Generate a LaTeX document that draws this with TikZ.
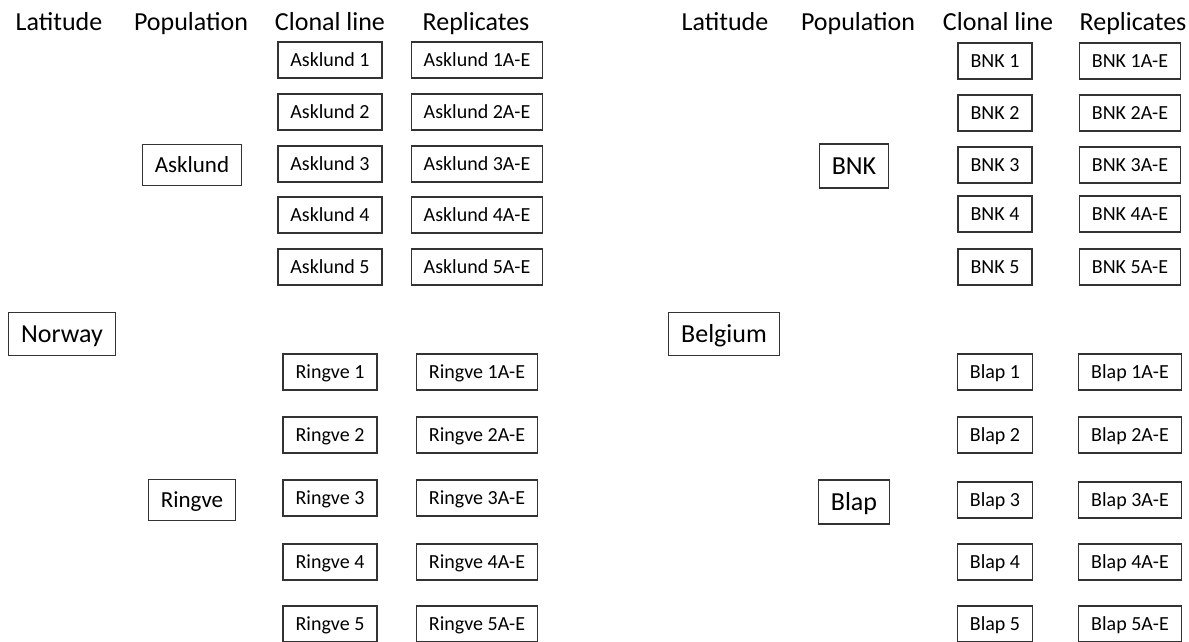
\documentclass[tikz,border=0pt]{standalone}
\usepackage{fontspec}
\setmainfont{Carlito}
\begin{document}
\begin{tikzpicture}[x=1pt,y=-1pt,
 bx/.style={draw=black!80, line width=1.4pt, inner xsep=12.5pt, inner ysep=0pt, minimum height=36pt, text height=13pt, text depth=0pt, font=\fontsize{20}{24}\selectfont},
 popL/.style={bx, minimum height=41pt, text height=14.8pt, font=\fontsize{23}{28}\selectfont},
 popR/.style={bx, minimum height=44pt, text height=16.7pt, font=\fontsize{26}{31}\selectfont},
 lat/.style={bx, minimum height=43pt, text height=16.7pt, font=\fontsize{26}{31}\selectfont},
 hdr/.style={anchor=base, inner sep=0pt, font=\fontsize{26}{31}\selectfont}]
\useasboundingbox (0,0) rectangle (1189,641);
% headers
\node[hdr] (hL1) at (59,30) {Latitude};
\node[hdr] (hL2) at (191,30) {Population};
\node[hdr] (hL3) at (330,30) {Clonal line};
\node[hdr] (hL4) at (476,30) {Replicates};
\node[hdr] (hR1) at (725,30) {Latitude};
\node[hdr] (hR2) at (858,30) {Population};
\node[hdr] (hR3) at (998,30) {Clonal line};
\node[hdr] (hR4) at (1133,30) {Replicates};
% latitude
\node[lat] (norway) at (62,334) {Norway};
\node[lat] (belgium) at (724,334) {Belgium};
% populations
\node[popL] (asklund) at (192,165) {Asklund};
\node[popL] (ringve) at (192,500) {Ringve};
\node[popR] (bnk) at (854,166) {BNK};
\node[popR] (blap) at (854,502) {Blap};
% Asklund
\foreach \i/\y in {1/60,2/112,3/164,4/215,5/267}{
  \node[bx] (ask\i) at (330,\y) {Asklund \i};
  \node[bx] (askr\i) at (477,\y) {Asklund \i A-E};
}
% Ringve
\foreach \i/\y in {1/372,2/435,3/498,4/562,5/624}{
  \node[bx] (rin\i) at (330,\y) {Ringve \i};
  \node[bx] (rinr\i) at (477,\y) {Ringve \i A-E};
}
% BNK
\foreach \i/\y in {1/61,2/113,3/165,4/214,5/267}{
  \node[bx] (bnk\i) at (995,\y) {BNK \i};
  \node[bx] (bnkr\i) at (1130,\y) {BNK \i A-E};
}
% Blap
\foreach \i/\y in {1/372,2/435,3/500,4/562,5/624}{
  \node[bx] (blap\i) at (995,\y) {Blap \i};
  \node[bx] (blapr\i) at (1130,\y) {Blap \i A-E};
}
\end{tikzpicture}
\end{document}
